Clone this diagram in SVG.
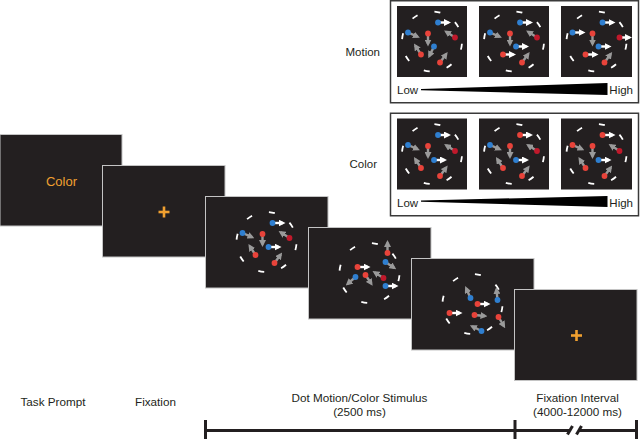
<svg xmlns="http://www.w3.org/2000/svg" width="640" height="439" viewBox="0 0 640 439">
<style>
.scr{fill:#231f20;stroke:#c4c4c4;stroke-width:1}
.pan{fill:#231f20}
.box{fill:#fff;stroke:#3a3a3a;stroke-width:1.5}
.ring{fill:none;stroke:#fff;stroke-width:1.8;stroke-dasharray:6 17.56;stroke-dashoffset:-2.25}
.g{stroke:#9a9a9a;stroke-width:2.4;marker-end:url(#ag)}
.w{stroke:#fff;stroke-width:2.4;marker-end:url(#aw)}
.b{fill:#2f7fd0}
.r{fill:#e8433a}
.d{fill:#c0192b}
.t{font-family:"Liberation Sans",Arial,sans-serif;font-size:11.7px;fill:#231f20}
.tl{stroke:#231f20;stroke-width:3;fill:none}
.or{stroke:#f0a030;stroke-width:2.6}
</style>
<defs>
<marker id="ag" viewBox="0 0 7 7" refX="4.5" refY="3.5" markerWidth="7" markerHeight="7" markerUnits="userSpaceOnUse" orient="auto"><path d="M0,0L7,3.5L0,7z" fill="#9a9a9a"/></marker>
<marker id="aw" viewBox="0 0 7 7" refX="4.5" refY="3.5" markerWidth="7" markerHeight="7" markerUnits="userSpaceOnUse" orient="auto"><path d="M0,0L7,3.5L0,7z" fill="#fff"/></marker>
</defs>

<!-- Screens -->
<g id="screen-task-prompt">
<rect class="scr" x="0" y="134.5" width="122" height="91.5"/>
<text class="t" x="61.5" y="186" text-anchor="middle" style="fill:#f0a030;font-size:13px">Color</text>
</g>
<g id="screen-fixation">
<rect class="scr" x="102.5" y="165.5" width="122.5" height="91.5"/>
<line class="or" x1="158.5" y1="212" x2="169.5" y2="212"/>
<line class="or" x1="164" y1="206.5" x2="164" y2="217.5"/>
</g>
<g id="screen-stim-1">
<rect class="scr" x="205.5" y="196.5" width="122.5" height="91.5"/>
<g transform="translate(266.5,242)">
<circle class="ring" r="30"/>
<line class="w" x1="6" y1="-19" x2="16.5" y2="-19"/>
<line class="g" x1="-24" y1="-9" x2="-14.4" y2="-4.8"/>
<line class="g" x1="-4" y1="-8" x2="-4" y2="2.5"/>
<line class="g" x1="23" y1="-4" x2="14.2" y2="-9.7"/>
<line class="w" x1="2" y1="5" x2="12.5" y2="5"/>
<line class="g" x1="-11" y1="13" x2="-16.7" y2="4.2"/>
<line class="g" x1="8" y1="21" x2="14.2" y2="12.5"/>
<circle class="b" cx="6" cy="-19" r="2.9"/><circle class="b" cx="-24" cy="-9" r="2.9"/>
<circle class="r" cx="-4" cy="-8" r="2.9"/><circle class="d" cx="23" cy="-4" r="2.9"/>
<circle class="b" cx="2" cy="5" r="2.9"/><circle class="r" cx="-11" cy="13" r="2.9"/>
<circle class="r" cx="8" cy="21" r="2.9"/>
</g>
</g>
<g id="screen-stim-2">
<rect class="scr" x="308.5" y="227.5" width="122.5" height="91.5"/>
<g transform="translate(369.5,273)">
<circle class="ring" r="30"/>
<line class="g" x1="18" y1="-20" x2="18" y2="-30.5"/>
<line class="g" x1="16" y1="-11" x2="24.7" y2="-5.1"/>
<line class="w" x1="-12" y1="-6" x2="-1.5" y2="-6"/>
<line class="g" x1="-14" y1="4" x2="-21.9" y2="10.9"/>
<line class="g" x1="-4" y1="2" x2="1.8" y2="10.7"/>
<line class="g" x1="14" y1="5" x2="5.1" y2="-0.6"/>
<line class="w" x1="16" y1="13" x2="26.5" y2="13"/>
<circle class="r" cx="18" cy="-20" r="2.9"/><circle class="b" cx="16" cy="-11" r="2.9"/>
<circle class="r" cx="-12" cy="-6" r="2.9"/><circle class="b" cx="-14" cy="4" r="2.9"/>
<circle class="r" cx="-4" cy="2" r="2.9"/><circle class="d" cx="14" cy="5" r="2.9"/>
<circle class="b" cx="16" cy="13" r="2.9"/>
</g>
</g>
<g id="screen-stim-3">
<rect class="scr" x="411.5" y="258.5" width="122.5" height="91.5"/>
<g transform="translate(472.5,304)">
<circle class="ring" r="30"/>
<line class="g" x1="-2" y1="-6" x2="-6.3" y2="-15.6"/>
<line class="w" x1="5" y1="0" x2="15.5" y2="0"/>
<line class="g" x1="25" y1="-4" x2="24" y2="-14.5"/>
<line class="w" x1="-23" y1="9" x2="-12.5" y2="9"/>
<line class="g" x1="2" y1="11" x2="12.5" y2="12"/>
<line class="g" x1="26" y1="13" x2="31.4" y2="22"/>
<line class="g" x1="9" y1="27" x2="-0.4" y2="22.3"/>
<circle class="b" cx="-2" cy="-6" r="2.9"/><circle class="r" cx="5" cy="0" r="2.9"/>
<circle class="b" cx="25" cy="-4" r="2.9"/><circle class="r" cx="-23" cy="9" r="2.9"/>
<circle class="r" cx="2" cy="11" r="2.9"/><circle class="r" cx="26" cy="13" r="2.9"/>
<circle class="b" cx="9" cy="27" r="2.9"/>
</g>
</g>
<g id="screen-fixation-interval">
<rect class="scr" x="514.5" y="289.5" width="122.5" height="91"/>
<line class="or" x1="571" y1="335.5" x2="582" y2="335.5"/>
<line class="or" x1="576.5" y1="330" x2="576.5" y2="341"/>
</g>

<!-- Motion box -->
<g id="motion-box">
<rect class="box" x="390.5" y="0.75" width="248" height="102"/>
<rect class="pan" x="397" y="6" width="70" height="71"/>
<rect class="pan" x="479" y="6" width="70" height="71"/>
<rect class="pan" x="561" y="6" width="71" height="71"/>
<g transform="translate(432,41.5)">
<circle class="ring" r="30"/>
<line class="w" x1="6" y1="-19" x2="16.5" y2="-19"/>
<line class="g" x1="-24" y1="-9" x2="-14.4" y2="-4.8"/>
<line class="g" x1="-4" y1="-8" x2="-4" y2="2.5"/>
<line class="g" x1="23" y1="-4" x2="14.2" y2="-9.7"/>
<line class="g" x1="2" y1="5" x2="-2.6" y2="14.4"/>
<line class="g" x1="-11" y1="13" x2="-16.7" y2="4.2"/>
<line class="g" x1="8" y1="21" x2="14.2" y2="12.5"/>
<circle class="b" cx="6" cy="-19" r="2.9"/><circle class="b" cx="-24" cy="-9" r="2.9"/>
<circle class="r" cx="-4" cy="-8" r="2.9"/><circle class="d" cx="23" cy="-4" r="2.9"/>
<circle class="b" cx="2" cy="5" r="2.9"/><circle class="r" cx="-11" cy="13" r="2.9"/>
<circle class="r" cx="8" cy="21" r="2.9"/>
</g>
<g transform="translate(514,41.5)">
<circle class="ring" r="30"/>
<line class="w" x1="6" y1="-19" x2="16.5" y2="-19"/>
<line class="g" x1="-24" y1="-9" x2="-14.4" y2="-4.8"/>
<line class="g" x1="-4" y1="-8" x2="-4" y2="2.5"/>
<line class="g" x1="23" y1="-4" x2="14.2" y2="-9.7"/>
<line class="w" x1="2" y1="5" x2="12.5" y2="5"/>
<line class="w" x1="-11" y1="13" x2="-0.5" y2="13"/>
<line class="g" x1="8" y1="21" x2="14.2" y2="12.5"/>
<circle class="b" cx="6" cy="-19" r="2.9"/><circle class="b" cx="-24" cy="-9" r="2.9"/>
<circle class="r" cx="-4" cy="-8" r="2.9"/><circle class="d" cx="23" cy="-4" r="2.9"/>
<circle class="b" cx="2" cy="5" r="2.9"/><circle class="r" cx="-11" cy="13" r="2.9"/>
<circle class="r" cx="8" cy="21" r="2.9"/>
</g>
<g transform="translate(596.5,41.5)">
<circle class="ring" r="30"/>
<line class="w" x1="6" y1="-19" x2="16.5" y2="-19"/>
<line class="w" x1="-24" y1="-9" x2="-13.5" y2="-9"/>
<line class="g" x1="-4" y1="-8" x2="-4" y2="2.5"/>
<line class="w" x1="23" y1="-4" x2="33" y2="-4"/>
<line class="w" x1="2" y1="5" x2="12.5" y2="5"/>
<line class="w" x1="-11" y1="13" x2="-0.5" y2="13"/>
<line class="g" x1="8" y1="21" x2="14.2" y2="12.5"/>
<circle class="b" cx="6" cy="-19" r="2.9"/><circle class="b" cx="-24" cy="-9" r="2.9"/>
<circle class="r" cx="-4" cy="-8" r="2.9"/><circle class="d" cx="23" cy="-4" r="2.9"/>
<circle class="b" cx="2" cy="5" r="2.9"/><circle class="r" cx="-11" cy="13" r="2.9"/>
<circle class="r" cx="8" cy="21" r="2.9"/>
</g>
<text class="t" x="397" y="94" style="font-size:11.5px">Low</text>
<polygon points="421,89 607.5,83 607.5,95 421,90.2" fill="#000"/>
<text class="t" x="633" y="94" text-anchor="end" style="font-size:11.5px">High</text>
</g>

<!-- Color box -->
<g id="color-box">
<rect class="box" x="390.5" y="113.25" width="248" height="102.5"/>
<rect class="pan" x="397" y="118.5" width="70" height="71"/>
<rect class="pan" x="479" y="118.5" width="70" height="71"/>
<rect class="pan" x="561" y="118.5" width="71" height="71"/>
<g transform="translate(432,154)">
<circle class="ring" r="30"/>
<line class="w" x1="6" y1="-19" x2="16.5" y2="-19"/>
<line class="g" x1="-24" y1="-9" x2="-14.4" y2="-4.8"/>
<line class="g" x1="-4" y1="-8" x2="-4" y2="2.5"/>
<line class="g" x1="23" y1="-3" x2="14.2" y2="-8.7"/>
<line class="w" x1="2" y1="6" x2="12.5" y2="6"/>
<line class="g" x1="-11" y1="14" x2="-16.7" y2="5.2"/>
<line class="g" x1="8" y1="22" x2="14.2" y2="13.5"/>
<circle class="b" cx="6" cy="-19" r="2.9"/><circle class="b" cx="-24" cy="-9" r="2.9"/>
<circle class="r" cx="-4" cy="-8" r="2.9"/><circle class="d" cx="23" cy="-3" r="2.9"/>
<circle class="b" cx="2" cy="6" r="2.9"/><circle class="r" cx="-11" cy="14" r="2.9"/>
<circle class="r" cx="8" cy="22" r="2.9"/>
</g>
<g transform="translate(514,154)">
<circle class="ring" r="30"/>
<line class="w" x1="6" y1="-19" x2="16.5" y2="-19"/>
<line class="g" x1="-24" y1="-9" x2="-14.4" y2="-4.8"/>
<line class="g" x1="-4" y1="-8" x2="-4" y2="2.5"/>
<line class="g" x1="23" y1="-3" x2="14.2" y2="-8.7"/>
<line class="w" x1="2" y1="6" x2="12.5" y2="6"/>
<line class="g" x1="-11" y1="14" x2="-16.7" y2="5.2"/>
<line class="g" x1="8" y1="22" x2="14.2" y2="13.5"/>
<circle class="r" cx="6" cy="-19" r="2.9"/><circle class="b" cx="-24" cy="-9" r="2.9"/>
<circle class="r" cx="-4" cy="-8" r="2.9"/><circle class="d" cx="23" cy="-3" r="2.9"/>
<circle class="b" cx="2" cy="6" r="2.9"/><circle class="r" cx="-11" cy="14" r="2.9"/>
<circle class="r" cx="8" cy="22" r="2.9"/>
</g>
<g transform="translate(596.5,154)">
<circle class="ring" r="30"/>
<line class="w" x1="6" y1="-19" x2="16.5" y2="-19"/>
<line class="g" x1="-24" y1="-9" x2="-14.4" y2="-4.8"/>
<line class="g" x1="-4" y1="-8" x2="-4" y2="2.5"/>
<line class="g" x1="23" y1="-3" x2="14.2" y2="-8.7"/>
<line class="w" x1="2" y1="6" x2="12.5" y2="6"/>
<line class="g" x1="-11" y1="14" x2="-16.7" y2="5.2"/>
<line class="g" x1="8" y1="22" x2="14.2" y2="13.5"/>
<circle class="r" cx="6" cy="-19" r="2.9"/><circle class="r" cx="-24" cy="-9" r="2.9"/>
<circle class="r" cx="-4" cy="-8" r="2.9"/><circle class="d" cx="23" cy="-3" r="2.9"/>
<circle class="b" cx="2" cy="6" r="2.9"/><circle class="r" cx="-11" cy="14" r="2.9"/>
<circle class="r" cx="8" cy="22" r="2.9"/>
</g>
<text class="t" x="397" y="206.5" style="font-size:11.5px">Low</text>
<polygon points="421,200.5 607.5,196 607.5,207 421,201.7" fill="#000"/>
<text class="t" x="633" y="206.5" text-anchor="end" style="font-size:11.5px">High</text>
</g>

<!-- Side labels -->
<text class="t" x="380" y="56" text-anchor="end" style="font-size:11.5px">Motion</text>
<text class="t" x="377" y="168" text-anchor="end" style="font-size:11.5px">Color</text>

<!-- Bottom labels -->
<text class="t" x="53" y="406" text-anchor="middle">Task Prompt</text>
<text class="t" x="155.5" y="406" text-anchor="middle">Fixation</text>
<text class="t" x="359.5" y="402" text-anchor="middle">Dot Motion/Color Stimulus</text>
<text class="t" x="359.5" y="416" text-anchor="middle">(2500 ms)</text>
<text class="t" x="577.5" y="402" text-anchor="middle">Fixation Interval</text>
<text class="t" x="577.5" y="416" text-anchor="middle">(4000-12000 ms)</text>

<!-- Timeline -->
<g id="connectors">
<line class="tl" x1="205" y1="430.5" x2="569" y2="430.5"/>
<line class="tl" x1="579" y1="430.5" x2="637" y2="430.5"/>
<line class="tl" x1="205.5" y1="420" x2="205.5" y2="440"/>
<line class="tl" x1="515" y1="420" x2="515" y2="440"/>
<line class="tl" x1="636.5" y1="420" x2="636.5" y2="440"/>
<line class="tl" x1="567.5" y1="434.5" x2="572.5" y2="426"/>
<line class="tl" x1="576.5" y1="434.5" x2="581.5" y2="426"/>
</g>
</svg>
